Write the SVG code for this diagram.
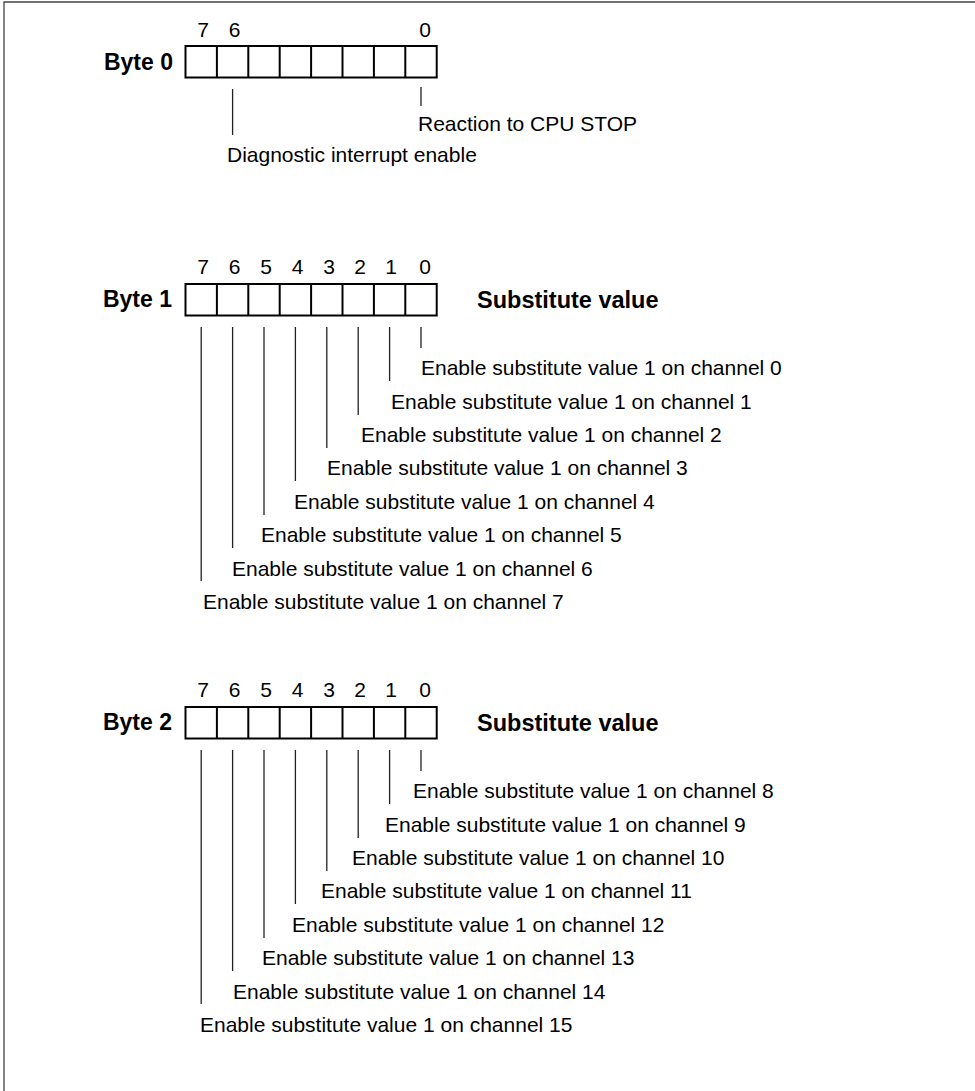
<svg xmlns="http://www.w3.org/2000/svg" width="975" height="1091" viewBox="0 0 975 1091">
<style>
.t{font-family:"Liberation Sans",Arial,sans-serif;font-size:21px;fill:#000}
.b{font-weight:bold;font-size:23px}
.e{text-anchor:end}
.d{text-anchor:middle}
.cell{fill:none;stroke:#000;stroke-width:2}
.lead{stroke:#222;stroke-width:1.3;fill:none}
.frame{stroke:#444;stroke-width:1.3;fill:none}
</style>
<defs>
<g id="reg">
<rect class="cell" x="185.5" y="0" width="251.2" height="31.5"/>
<path class="cell" d="M216.9 0v31.5M248.3 0v31.5M279.7 0v31.5M311.1 0v31.5M342.5 0v31.5M373.9 0v31.5M405.3 0v31.5"/>
</g>
</defs>
<rect width="975" height="1091" fill="#fff"/>
<path class="frame" d="M4 1091V2H975"/>

<g id="byte0">
<use href="#reg" y="46"/>
<text class="t b e" x="173" y="69.5">Byte 0</text>
<text class="t d" x="203" y="37">7</text>
<text class="t d" x="234.5" y="37">6</text>
<text class="t d" x="425" y="37">0</text>
</g>
<g id="byte0-labels">
<text class="t" x="418" y="131">Reaction to CPU STOP</text>
<text class="t" x="227" y="162">Diagnostic interrupt enable</text>
</g>

<g id="byte1">
<use href="#reg" y="284"/>
<text class="t b e" x="172" y="307">Byte 1</text>
<text class="t b" x="477" y="307.5" style="font-size:23.5px">Substitute value</text>
<text class="t d" x="203" y="274">7</text>
<text class="t d" x="234.5" y="274">6</text>
<text class="t d" x="266" y="274">5</text>
<text class="t d" x="297.5" y="274">4</text>
<text class="t d" x="329" y="274">3</text>
<text class="t d" x="360" y="274">2</text>
<text class="t d" x="391" y="274">1</text>
<text class="t d" x="425" y="274">0</text>
</g>
<g id="byte1-labels">
<text class="t" x="421" y="375">Enable substitute value 1 on channel 0</text>
<text class="t" x="391" y="408.5">Enable substitute value 1 on channel 1</text>
<text class="t" x="361" y="442">Enable substitute value 1 on channel 2</text>
<text class="t" x="327" y="475">Enable substitute value 1 on channel 3</text>
<text class="t" x="294" y="508.5">Enable substitute value 1 on channel 4</text>
<text class="t" x="261" y="542">Enable substitute value 1 on channel 5</text>
<text class="t" x="232" y="575.5">Enable substitute value 1 on channel 6</text>
<text class="t" x="203" y="608.5">Enable substitute value 1 on channel 7</text>
</g>

<g id="byte2">
<use href="#reg" y="707"/>
<text class="t b e" x="172" y="730">Byte 2</text>
<text class="t b" x="477" y="730.5" style="font-size:23.5px">Substitute value</text>
<text class="t d" x="203" y="697">7</text>
<text class="t d" x="234.5" y="697">6</text>
<text class="t d" x="266" y="697">5</text>
<text class="t d" x="297.5" y="697">4</text>
<text class="t d" x="329" y="697">3</text>
<text class="t d" x="360" y="697">2</text>
<text class="t d" x="391" y="697">1</text>
<text class="t d" x="425" y="697">0</text>
</g>
<g id="byte2-labels">
<text class="t" x="413" y="798">Enable substitute value 1 on channel 8</text>
<text class="t" x="385" y="831.5">Enable substitute value 1 on channel 9</text>
<text class="t" x="352" y="865">Enable substitute value 1 on channel 10</text>
<text class="t" x="321" y="898">Enable substitute value 1 on channel 11</text>
<text class="t" x="292" y="931.5">Enable substitute value 1 on channel 12</text>
<text class="t" x="262" y="965">Enable substitute value 1 on channel 13</text>
<text class="t" x="233" y="998.5">Enable substitute value 1 on channel 14</text>
<text class="t" x="200" y="1031.5">Enable substitute value 1 on channel 15</text>
</g>

<g id="connectors">
<path class="lead" d="M421 87V106M232.6 89V135"/>
<path class="lead" d="M421 327V348M389.6 327V381M358.2 327V415M326.8 327V448M295.4 327V481M264 327V515M232.6 327V548M201.2 327V581"/>
<path class="lead" d="M421 750V771M389.6 750V804M358.2 750V838M326.8 750V871M295.4 750V904M264 750V938M232.6 750V971M201.2 750V1004"/>
</g>
</svg>
